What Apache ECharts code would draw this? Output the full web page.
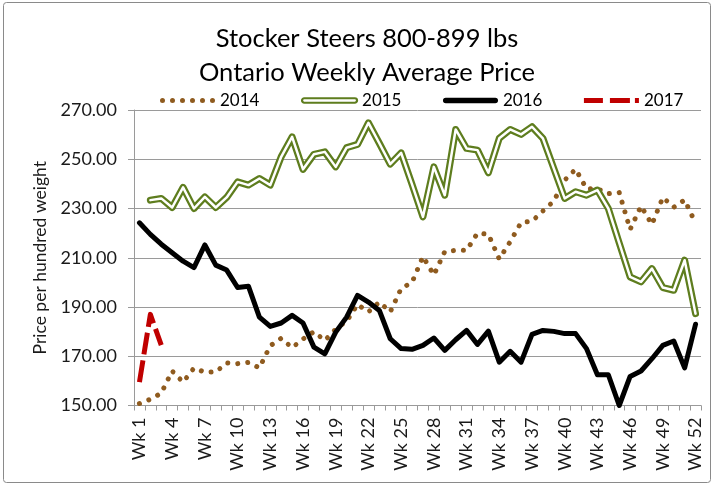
<!DOCTYPE html>
<html><head><meta charset="utf-8">
<script src="https://cdn.jsdelivr.net/npm/echarts@6/dist/echarts.min.js"></script>
<style>html,body{margin:0;padding:0;background:#fff}#c{width:715px;height:487px}</style>
</head><body><div id="c"></div>
<script>
const weeks = ['Wk 1','Wk 2','Wk 3','Wk 4','Wk 5','Wk 6','Wk 7','Wk 8','Wk 9','Wk 10','Wk 11','Wk 12','Wk 13',
  'Wk 14','Wk 15','Wk 16','Wk 17','Wk 18','Wk 19','Wk 20','Wk 21','Wk 22','Wk 23','Wk 24','Wk 25','Wk 26',
  'Wk 27','Wk 28','Wk 29','Wk 30','Wk 31','Wk 32','Wk 33','Wk 34','Wk 35','Wk 36','Wk 37','Wk 38','Wk 39',
  'Wk 40','Wk 41','Wk 42','Wk 43','Wk 44','Wk 45','Wk 46','Wk 47','Wk 48','Wk 49','Wk 50','Wk 51','Wk 52'];
const yTicks = [150, 170, 190, 210, 230, 250, 270];
const s2014 = [150.8, 152.5, 155, 164, 159.5, 165.2, 163.5, 163.6, 167.3, 167, 167.5, 165.3, 174.3,
  177.3, 173.5, 177, 180, 176.4, 181, 184.3, 191, 188, 192, 188, 197.5, 200,
  210.5, 203, 212.5, 213, 213, 220, 219.5, 209.5, 216.5, 224.3, 224.8, 229, 233,
  241.5, 246, 238, 238, 236, 236.5, 221.5, 231, 223.5, 234.5, 230.5, 233.5, 224];
const s2015 = [null, 233.4, 234.1, 230.4, 238.6, 230, 234.7, 230.4, 234.5, 240.8, 239.5, 242.2, 239.5,
  251, 259.1, 245.9, 252, 253, 246.9, 254.7, 256, 264.8, 256.5, 248, 252.6, 239.8,
  226.6, 246.9, 235.4, 262.1, 254.4, 253.7, 244.5, 258.5, 262.1, 260.1, 263.2, 258.5, 246.3,
  234.1, 236.8, 235.4, 237.5, 230, 216, 202.2, 200.2, 205.6, 197.9, 196.8, 209, 187.3];
const s2016 = [224.2, 219.5, 215.5, 212, 208.6, 206, 215.2, 207, 205, 197.9, 198.4, 185.9, 182.1,
  183.5, 186.6, 183.5, 173.7, 171, 179.8, 185.9, 194.7, 192, 188.6, 177.1, 173.1, 172.8,
  174.4, 177.4, 172.4, 176.7, 180.5, 174.8, 180.2, 167.6, 172, 167.6, 178.9, 180.5, 180.1,
  179.2, 179.2, 173.1, 162.5, 162.5, 150, 161.8, 164, 169, 174.4, 176.2, 165.3, 183];
const s2017 = [159.5, 187, 174.5];

const FONT = 'Lato';
const C14 = '#8f5b1f', C15 = '#5e7d1e', C16 = '#000000', C17 = '#c00000';
const GRID = '#9a9a9a';

const chart = echarts.init(document.getElementById('c'), null, {renderer: 'canvas'});
chart.setOption({
  animation: false,
  backgroundColor: '#ffffff',
  textStyle: {fontFamily: FONT},
  title: {
    text: 'Stocker Steers 800-899 lbs\nOntario Weekly Average Price',
    left: 362, top: 17, textAlign: 'center',
    textStyle: {fontFamily: FONT, fontSize: 25.5, fontWeight: 'normal', color: '#000', lineHeight: 34}
  },
  legend: {
    left: 160, top: 92, padding: 0, itemWidth: 55, itemHeight: 7, itemGap: 41.5,
    symbolKeepAspect: true, selectedMode: false,
    textStyle: {fontFamily: FONT, fontSize: 17, color: '#000'},
    data: [
      {name: '2014', icon: 'path://M0,2.5a2.5,2.5 0 1,0 5,0a2.5,2.5 0 1,0 -5,0ZM10,2.5a2.5,2.5 0 1,0 5,0a2.5,2.5 0 1,0 -5,0ZM20,2.5a2.5,2.5 0 1,0 5,0a2.5,2.5 0 1,0 -5,0ZM30,2.5a2.5,2.5 0 1,0 5,0a2.5,2.5 0 1,0 -5,0ZM40,2.5a2.5,2.5 0 1,0 5,0a2.5,2.5 0 1,0 -5,0ZM50,2.5a2.5,2.5 0 1,0 5,0a2.5,2.5 0 1,0 -5,0Z',
        itemStyle: {color: C14, borderWidth: 0}},
      {name: '2015', icon: 'path://M2.25,0H52.75A2.25,2.25 0 0 1 52.75,4.5H2.25A2.25,2.25 0 0 1 2.25,0Z',
        itemStyle: {color: '#ffffff', borderColor: C15, borderWidth: 2.2}},
      {name: '2016', icon: 'path://M2.75,0H52.25A2.75,2.75 0 0 1 52.25,5.5H2.75A2.75,2.75 0 0 1 2.75,0Z',
        itemStyle: {color: C16, borderWidth: 0}},
      {name: '2017', icon: 'path://M0,0H19V5H0ZM26,0H46V5H26ZM51,0H55V5H51Z',
        itemStyle: {color: C17, borderWidth: 0}}
    ]
  },
  grid: {left: 134, right: 14, top: 110, bottom: 81.5, containLabel: false, outerBoundsMode: 'none'},
  xAxis: {
    type: 'category', data: weeks, boundaryGap: true,
    axisLine: {show: true, lineStyle: {color: GRID, width: 1}},
    axisTick: {show: true, interval: 0, length: 5, lineStyle: {color: GRID}},
    axisLabel: {interval: 2, rotate: 90, margin: 12, fontFamily: FONT, fontSize: 18, color: '#1a1a1a'},
    splitLine: {show: false}
  },
  yAxis: {
    type: 'value', min: yTicks[0], max: yTicks[yTicks.length - 1], interval: yTicks[1] - yTicks[0],
    name: 'Price per hundred weight', nameLocation: 'middle', nameRotate: 90, nameGap: 84,
    nameTextStyle: {fontFamily: FONT, fontSize: 17.5, color: '#1a1a1a'},
    axisLine: {show: true, lineStyle: {color: GRID, width: 1}},
    axisTick: {show: true, inside: false, length: 6, lineStyle: {color: GRID}},
    axisLabel: {formatter: v => v.toFixed(2), margin: 17, fontFamily: FONT, fontSize: 18, color: '#1a1a1a'},
    splitLine: {show: true, lineStyle: {color: GRID, width: 1}}
  },
  series: [
    {name: '2014', type: 'line', data: s2014, symbol: 'none', silent: true,
      lineStyle: {color: C14, width: 5, type: [0.01, 10], cap: 'round', join: 'round'}},
    {name: '2015', type: 'line', data: s2015, symbol: 'none', silent: true,
      lineStyle: {color: C15, width: 7, cap: 'round', join: 'round'}},
    {name: '2015 inner', type: 'line', data: s2015, symbol: 'none', silent: true,
      lineStyle: {color: '#ffffff', width: 2.5, cap: 'round', join: 'round'}},
    {name: '2016', type: 'line', data: s2016, symbol: 'none', silent: true,
      lineStyle: {color: C16, width: 5, cap: 'round', join: 'round'}},
    {name: '2017', type: 'line', data: s2017, symbol: 'none', silent: true,
      lineStyle: {color: C17, width: 5, type: [22, 6], cap: 'butt', join: 'round'}}
  ],
  graphic: [{
    type: 'rect', silent: true, z: -10,
    shape: {x: 3.5, y: 2.5, width: 707, height: 480, r: 3},
    style: {fill: 'none', stroke: '#8a8a8a', lineWidth: 1}
  }]
});
</script>
</body></html>
